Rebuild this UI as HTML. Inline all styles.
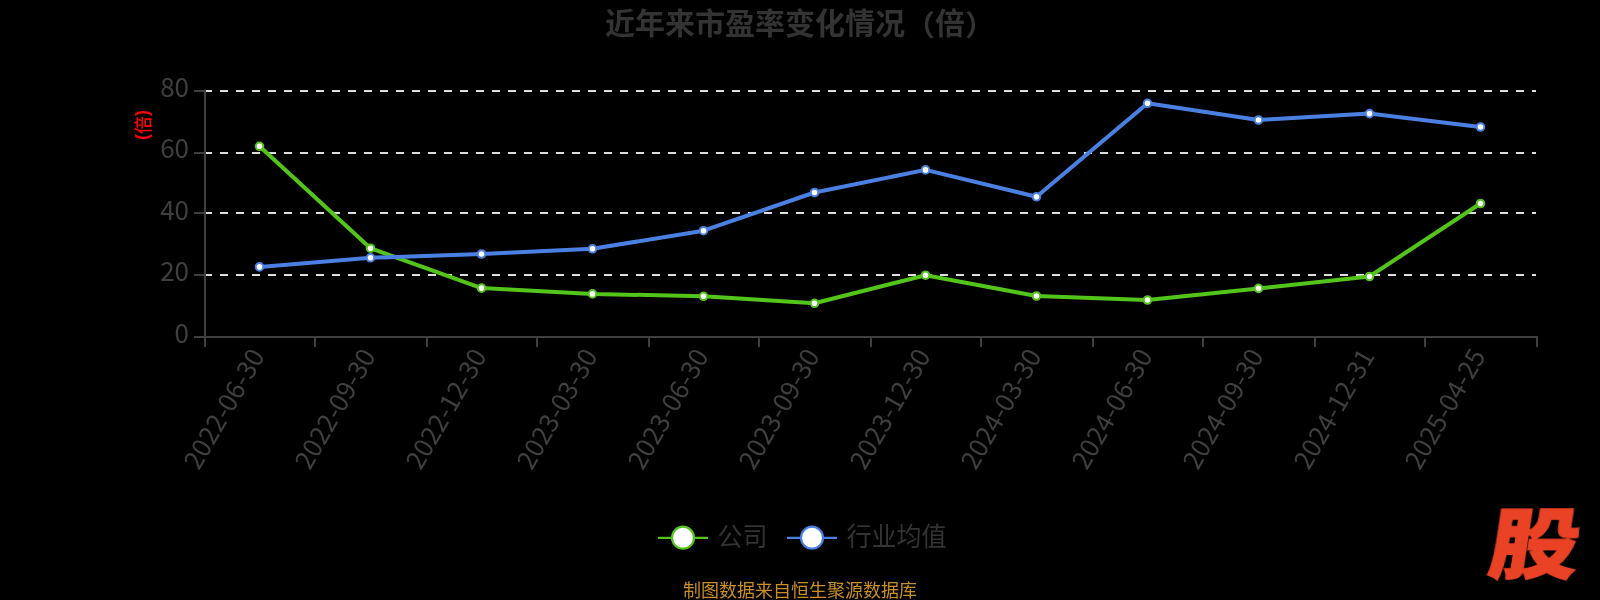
<!DOCTYPE html>
<html><head><meta charset="utf-8"><title>近年来市盈率变化情况（倍）</title>
<style>
html,body{margin:0;padding:0;background:#000;}
div{will-change:transform;}
body{width:1600px;height:600px;overflow:hidden;position:relative;font-family:"Liberation Sans","Noto Sans CJK SC",sans-serif;}
.pa{position:relative;top:1.5px;display:inline-block;transform:scaleY(0.95);}
.title{position:absolute;left:0;top:1px;width:1600px;text-align:center;font-size:30px;font-weight:bold;color:#333;line-height:46px;}
svg{position:absolute;left:0;top:0;will-change:transform;}
.legend{position:absolute;top:520px;left:0;width:1600px;height:36px;}
.li{position:absolute;top:0;height:36px;line-height:36px;font-size:24px;color:#333;}
.foot{position:absolute;left:0;width:1600px;text-align:center;top:578px;font-size:18px;line-height:26px;color:#c98f25;}
.logo{position:absolute;left:1497px;top:500px;font-size:84px;line-height:100px;font-weight:900;color:#e94225;font-family:"Liberation Sans","Noto Sans CJK SC",sans-serif;transform-origin:0 0;transform:matrix(1.07,0,-0.14,0.917,0,0);-webkit-text-stroke:1.5px #e94225;}
</style></head><body>
<div class="title">近年来市盈率变化情况<span class="pa">（</span>倍<span class="pa">）</span></div>
<svg width="1600" height="600" viewBox="0 0 1600 600">
<line x1="204" y1="275" x2="1536" y2="275" stroke="#dddddd" stroke-width="2" stroke-dasharray="8 8"/>
<line x1="204" y1="213" x2="1536" y2="213" stroke="#dddddd" stroke-width="2" stroke-dasharray="8 8"/>
<line x1="204" y1="153" x2="1536" y2="153" stroke="#dddddd" stroke-width="2" stroke-dasharray="8 8"/>
<line x1="204" y1="91" x2="1536" y2="91" stroke="#dddddd" stroke-width="2" stroke-dasharray="8 8"/>
<line x1="205" y1="89.5" x2="205" y2="347" stroke="#3f3f3f" stroke-width="2"/>
<line x1="194" y1="337" x2="205" y2="337" stroke="#3f3f3f" stroke-width="2"/>
<text x="189" y="342.7" text-anchor="end" font-size="26" fill="#3f3f3f" font-family='"Noto Sans CJK SC", "Liberation Sans", sans-serif'>0</text>
<line x1="194" y1="275" x2="205" y2="275" stroke="#3f3f3f" stroke-width="2"/>
<text x="189" y="281.2" text-anchor="end" font-size="26" fill="#3f3f3f" font-family='"Noto Sans CJK SC", "Liberation Sans", sans-serif'>20</text>
<line x1="194" y1="213" x2="205" y2="213" stroke="#3f3f3f" stroke-width="2"/>
<text x="189" y="219.7" text-anchor="end" font-size="26" fill="#3f3f3f" font-family='"Noto Sans CJK SC", "Liberation Sans", sans-serif'>40</text>
<line x1="194" y1="153" x2="205" y2="153" stroke="#3f3f3f" stroke-width="2"/>
<text x="189" y="158.2" text-anchor="end" font-size="26" fill="#3f3f3f" font-family='"Noto Sans CJK SC", "Liberation Sans", sans-serif'>60</text>
<line x1="194" y1="91" x2="205" y2="91" stroke="#3f3f3f" stroke-width="2"/>
<text x="189" y="96.7" text-anchor="end" font-size="26" fill="#3f3f3f" font-family='"Noto Sans CJK SC", "Liberation Sans", sans-serif'>80</text>
<line x1="204" y1="337" x2="1538" y2="337" stroke="#3f3f3f" stroke-width="2"/>
<line x1="205" y1="337" x2="205" y2="347" stroke="#3f3f3f" stroke-width="2"/>
<line x1="315" y1="337" x2="315" y2="347" stroke="#3f3f3f" stroke-width="2"/>
<line x1="427" y1="337" x2="427" y2="347" stroke="#3f3f3f" stroke-width="2"/>
<line x1="537" y1="337" x2="537" y2="347" stroke="#3f3f3f" stroke-width="2"/>
<line x1="649" y1="337" x2="649" y2="347" stroke="#3f3f3f" stroke-width="2"/>
<line x1="759" y1="337" x2="759" y2="347" stroke="#3f3f3f" stroke-width="2"/>
<line x1="871" y1="337" x2="871" y2="347" stroke="#3f3f3f" stroke-width="2"/>
<line x1="981" y1="337" x2="981" y2="347" stroke="#3f3f3f" stroke-width="2"/>
<line x1="1093" y1="337" x2="1093" y2="347" stroke="#3f3f3f" stroke-width="2"/>
<line x1="1203" y1="337" x2="1203" y2="347" stroke="#3f3f3f" stroke-width="2"/>
<line x1="1315" y1="337" x2="1315" y2="347" stroke="#3f3f3f" stroke-width="2"/>
<line x1="1425" y1="337" x2="1425" y2="347" stroke="#3f3f3f" stroke-width="2"/>
<line x1="1537" y1="337" x2="1537" y2="347" stroke="#3f3f3f" stroke-width="2"/>
<text transform="translate(258.2,351.5) rotate(-60)" x="0" y="8.5" text-anchor="end" font-size="26" fill="#3f3f3f" font-family='"Noto Sans CJK SC", "Liberation Sans", sans-serif'>2022-06-30</text>
<text transform="translate(369.2,351.5) rotate(-60)" x="0" y="8.5" text-anchor="end" font-size="26" fill="#3f3f3f" font-family='"Noto Sans CJK SC", "Liberation Sans", sans-serif'>2022-09-30</text>
<text transform="translate(480.2,351.5) rotate(-60)" x="0" y="8.5" text-anchor="end" font-size="26" fill="#3f3f3f" font-family='"Noto Sans CJK SC", "Liberation Sans", sans-serif'>2022-12-30</text>
<text transform="translate(591.2,351.5) rotate(-60)" x="0" y="8.5" text-anchor="end" font-size="26" fill="#3f3f3f" font-family='"Noto Sans CJK SC", "Liberation Sans", sans-serif'>2023-03-30</text>
<text transform="translate(702.2,351.5) rotate(-60)" x="0" y="8.5" text-anchor="end" font-size="26" fill="#3f3f3f" font-family='"Noto Sans CJK SC", "Liberation Sans", sans-serif'>2023-06-30</text>
<text transform="translate(813.2,351.5) rotate(-60)" x="0" y="8.5" text-anchor="end" font-size="26" fill="#3f3f3f" font-family='"Noto Sans CJK SC", "Liberation Sans", sans-serif'>2023-09-30</text>
<text transform="translate(924.2,351.5) rotate(-60)" x="0" y="8.5" text-anchor="end" font-size="26" fill="#3f3f3f" font-family='"Noto Sans CJK SC", "Liberation Sans", sans-serif'>2023-12-30</text>
<text transform="translate(1035.2,351.5) rotate(-60)" x="0" y="8.5" text-anchor="end" font-size="26" fill="#3f3f3f" font-family='"Noto Sans CJK SC", "Liberation Sans", sans-serif'>2024-03-30</text>
<text transform="translate(1146.2,351.5) rotate(-60)" x="0" y="8.5" text-anchor="end" font-size="26" fill="#3f3f3f" font-family='"Noto Sans CJK SC", "Liberation Sans", sans-serif'>2024-06-30</text>
<text transform="translate(1257.2,351.5) rotate(-60)" x="0" y="8.5" text-anchor="end" font-size="26" fill="#3f3f3f" font-family='"Noto Sans CJK SC", "Liberation Sans", sans-serif'>2024-09-30</text>
<text transform="translate(1368.2,351.5) rotate(-60)" x="0" y="8.5" text-anchor="end" font-size="26" fill="#3f3f3f" font-family='"Noto Sans CJK SC", "Liberation Sans", sans-serif'>2024-12-31</text>
<text transform="translate(1479.2,351.5) rotate(-60)" x="0" y="8.5" text-anchor="end" font-size="26" fill="#3f3f3f" font-family='"Noto Sans CJK SC", "Liberation Sans", sans-serif'>2025-04-25</text>
<text transform="translate(149.5,125) rotate(-90)" x="0" y="0" text-anchor="middle" font-size="18" fill="#ff0000" font-family='"Liberation Sans", "Noto Sans CJK SC", sans-serif'><tspan dy="-2" font-weight="bold">(</tspan><tspan dy="2" font-weight="500">倍</tspan><tspan dy="-2" font-weight="bold">)</tspan></text>
<polyline points="259.5,146.3 370.5,248.2 481.5,288.1 592.5,293.9 703.5,296.3 814.5,303.3 925.5,275.2 1036.5,296.0 1147.5,300.0 1258.5,288.4 1369.5,276.5 1480.5,203.5" fill="none" stroke="#52c41a" stroke-width="4" stroke-linejoin="round" stroke-linecap="round"/>
<circle cx="259.5" cy="146.3" r="3.8" fill="#fff" stroke="#52c41a" stroke-width="2"/>
<circle cx="370.5" cy="248.2" r="3.8" fill="#fff" stroke="#52c41a" stroke-width="2"/>
<circle cx="481.5" cy="288.1" r="3.8" fill="#fff" stroke="#52c41a" stroke-width="2"/>
<circle cx="592.5" cy="293.9" r="3.8" fill="#fff" stroke="#52c41a" stroke-width="2"/>
<circle cx="703.5" cy="296.3" r="3.8" fill="#fff" stroke="#52c41a" stroke-width="2"/>
<circle cx="814.5" cy="303.3" r="3.8" fill="#fff" stroke="#52c41a" stroke-width="2"/>
<circle cx="925.5" cy="275.2" r="3.8" fill="#fff" stroke="#52c41a" stroke-width="2"/>
<circle cx="1036.5" cy="296.0" r="3.8" fill="#fff" stroke="#52c41a" stroke-width="2"/>
<circle cx="1147.5" cy="300.0" r="3.8" fill="#fff" stroke="#52c41a" stroke-width="2"/>
<circle cx="1258.5" cy="288.4" r="3.8" fill="#fff" stroke="#52c41a" stroke-width="2"/>
<circle cx="1369.5" cy="276.5" r="3.8" fill="#fff" stroke="#52c41a" stroke-width="2"/>
<circle cx="1480.5" cy="203.5" r="3.8" fill="#fff" stroke="#52c41a" stroke-width="2"/>
<polyline points="259.5,266.9 370.5,257.8 481.5,254.0 592.5,248.8 703.5,230.7 814.5,192.5 925.5,169.9 1036.5,196.8 1147.5,103.3 1258.5,120.0 1369.5,113.6 1480.5,127.0" fill="none" stroke="#4a80e2" stroke-width="4" stroke-linejoin="round" stroke-linecap="round"/>
<circle cx="259.5" cy="266.9" r="3.8" fill="#fff" stroke="#4a80e2" stroke-width="2"/>
<circle cx="370.5" cy="257.8" r="3.8" fill="#fff" stroke="#4a80e2" stroke-width="2"/>
<circle cx="481.5" cy="254.0" r="3.8" fill="#fff" stroke="#4a80e2" stroke-width="2"/>
<circle cx="592.5" cy="248.8" r="3.8" fill="#fff" stroke="#4a80e2" stroke-width="2"/>
<circle cx="703.5" cy="230.7" r="3.8" fill="#fff" stroke="#4a80e2" stroke-width="2"/>
<circle cx="814.5" cy="192.5" r="3.8" fill="#fff" stroke="#4a80e2" stroke-width="2"/>
<circle cx="925.5" cy="169.9" r="3.8" fill="#fff" stroke="#4a80e2" stroke-width="2"/>
<circle cx="1036.5" cy="196.8" r="3.8" fill="#fff" stroke="#4a80e2" stroke-width="2"/>
<circle cx="1147.5" cy="103.3" r="3.8" fill="#fff" stroke="#4a80e2" stroke-width="2"/>
<circle cx="1258.5" cy="120.0" r="3.8" fill="#fff" stroke="#4a80e2" stroke-width="2"/>
<circle cx="1369.5" cy="113.6" r="3.8" fill="#fff" stroke="#4a80e2" stroke-width="2"/>
<circle cx="1480.5" cy="127.0" r="3.8" fill="#fff" stroke="#4a80e2" stroke-width="2"/>
<g>
<line x1="658" y1="537.9" x2="708" y2="537.9" stroke="#52c41a" stroke-width="2.2"/>
<circle cx="683" cy="537.7" r="11" fill="#fff" stroke="#52c41a" stroke-width="2.2"/>
<text transform="translate(717.5,545.6) scale(1,1.04)" font-size="25" fill="#333" font-family='"Liberation Sans", "Noto Sans CJK SC", sans-serif'>公司</text>
<line x1="787" y1="537.9" x2="837" y2="537.9" stroke="#4a80e2" stroke-width="2.2"/>
<circle cx="812" cy="537.7" r="11" fill="#fff" stroke="#4a80e2" stroke-width="2.2"/>
<text transform="translate(846.5,545.6) scale(1,1.04)" font-size="25" fill="#333" font-family='"Liberation Sans", "Noto Sans CJK SC", sans-serif'>行业均值</text>
</g>
</svg>
<div class="foot">制图数据来自恒生聚源数据库</div>
<div class="logo">股</div>
</body></html>
